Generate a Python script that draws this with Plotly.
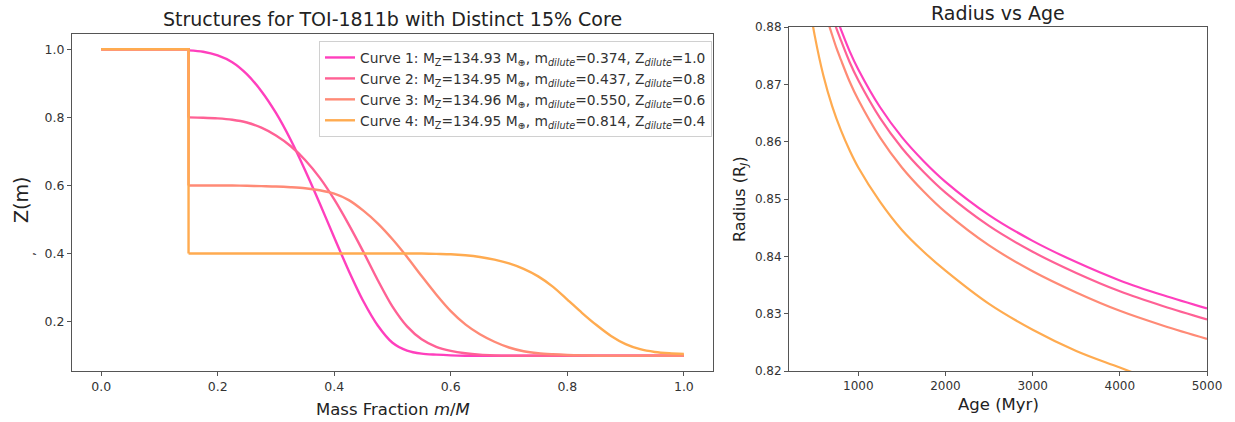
import plotly.graph_objects as go

W, H = 1235, 422

# ---------------- data: left panel (Z profile vs mass fraction) ----------------
core_mass = [0.0, 0.15]
core_z = [1.0, 1.0]

mass = [0.150, 0.175, 0.200, 0.225, 0.250, 0.275, 0.300, 0.325, 0.350, 0.375,
        0.400, 0.425, 0.450, 0.475, 0.500, 0.525, 0.550, 0.575, 0.600, 0.625,
        0.650, 0.675, 0.700, 0.725, 0.750, 0.775, 0.800, 0.825, 0.850, 0.875,
        0.900, 0.925, 0.950, 0.975, 1.000]

z_curve1 = [0.997, 0.993, 0.982, 0.962, 0.927, 0.877, 0.813, 0.735, 0.645, 0.548,
            0.447, 0.349, 0.260, 0.188, 0.138, 0.115, 0.106, 0.103, 0.101, 0.100,
            0.100, 0.100, 0.100, 0.100, 0.100, 0.100, 0.100, 0.100, 0.100, 0.100,
            0.100, 0.100, 0.100, 0.100, 0.100]
z_curve2 = [0.800, 0.799, 0.797, 0.793, 0.785, 0.770, 0.747, 0.716, 0.675, 0.623,
            0.559, 0.485, 0.405, 0.321, 0.244, 0.186, 0.148, 0.126, 0.114, 0.107,
            0.103, 0.101, 0.100, 0.100, 0.100, 0.100, 0.100, 0.100, 0.100, 0.100,
            0.100, 0.100, 0.100, 0.100, 0.100]
z_curve3 = [0.600, 0.600, 0.600, 0.600, 0.599, 0.598, 0.597, 0.595, 0.592, 0.586,
            0.576, 0.557, 0.526, 0.488, 0.442, 0.390, 0.334, 0.280, 0.231, 0.192,
            0.163, 0.141, 0.124, 0.113, 0.107, 0.104, 0.102, 0.101, 0.100, 0.100,
            0.100, 0.100, 0.100, 0.100, 0.100]
z_curve4 = [0.400, 0.400, 0.400, 0.400, 0.400, 0.400, 0.400, 0.400, 0.400, 0.400,
            0.400, 0.400, 0.400, 0.400, 0.400, 0.400, 0.400, 0.399, 0.398, 0.395,
            0.390, 0.382, 0.371, 0.355, 0.333, 0.303, 0.265, 0.226, 0.190, 0.158,
            0.134, 0.119, 0.111, 0.107, 0.105]

curve_labels = [
    "Curve 1: M<sub>Z</sub>=134.93 M<sub>⊕</sub>, m<sub><i>dilute</i></sub>=0.374, Z<sub><i>dilute</i></sub>=1.0",
    "Curve 2: M<sub>Z</sub>=134.95 M<sub>⊕</sub>, m<sub><i>dilute</i></sub>=0.437, Z<sub><i>dilute</i></sub>=0.8",
    "Curve 3: M<sub>Z</sub>=134.96 M<sub>⊕</sub>, m<sub><i>dilute</i></sub>=0.550, Z<sub><i>dilute</i></sub>=0.6",
    "Curve 4: M<sub>Z</sub>=134.95 M<sub>⊕</sub>, m<sub><i>dilute</i></sub>=0.814, Z<sub><i>dilute</i></sub>=0.4",
]

# ---------------- data: right panel (radius vs age) ----------------
age_1 = [700, 750, 800, 900, 1000, 1250, 1500, 1750, 2000, 2500, 3000, 3500, 4000, 4500, 5000]
r_1 = [0.8839, 0.8816, 0.8796, 0.8758, 0.8726, 0.8660, 0.8608, 0.8566, 0.8530, 0.8472,
       0.8427, 0.8390, 0.8358, 0.8332, 0.8309]
age_2 = [650, 700, 750, 800, 900, 1000, 1250, 1500, 1750, 2000, 2500, 3000, 3500, 4000, 4500, 5000]
r_2 = [0.8844, 0.8820, 0.8797, 0.8777, 0.8739, 0.8707, 0.8641, 0.8589, 0.8547, 0.8511,
       0.8453, 0.8408, 0.8371, 0.8339, 0.8313, 0.8290]
age_3 = [600, 650, 700, 750, 800, 900, 1000, 1250, 1500, 1750, 2000, 2500, 3000, 3500, 4000, 4500, 5000]
r_3 = [0.8836, 0.8810, 0.8786, 0.8763, 0.8743, 0.8705, 0.8673, 0.8607, 0.8555, 0.8513,
       0.8477, 0.8419, 0.8374, 0.8337, 0.8305, 0.8279, 0.8256]
age_4 = [400, 450, 500, 600, 700, 800, 900, 1000, 1250, 1500, 1750, 2000, 2500, 3000, 3500, 4000, 4500]
r_4 = [0.8890, 0.8830, 0.8785, 0.8715, 0.8662, 0.8620, 0.8585, 0.8555, 0.8495, 0.8446,
       0.8408, 0.8375, 0.8317, 0.8272, 0.8235, 0.8206, 0.8177]

colors = ["#ff3fbd", "#ff6195", "#ff8a76", "#ffab50"]
FONT = "DejaVu Sans"


def px(x):
    return x / W


def py(y):
    return 1 - y / H


fig = go.Figure()

z_list = [z_curve1, z_curve2, z_curve3, z_curve4]
age_list = [age_1, age_2, age_3, age_4]
r_list = [r_1, r_2, r_3, r_4]

for i in range(4):
    # distinct core + step down to the dilute region
    fig.add_trace(go.Scatter(
        x=core_mass + [core_mass[-1]], y=core_z + [z_list[i][0]],
        mode="lines", line=dict(color=colors[i], width=2.4),
        xaxis="x", yaxis="y", showlegend=False, hoverinfo="skip",
        legendgroup=f"c{i}"))
    # dilute envelope
    fig.add_trace(go.Scatter(
        x=mass, y=z_list[i], mode="lines",
        line=dict(color=colors[i], width=2.4, shape="spline", smoothing=0.8),
        xaxis="x", yaxis="y", name=curve_labels[i], legendgroup=f"c{i}"))

for i in range(4):
    fig.add_trace(go.Scatter(
        x=age_list[i], y=r_list[i], mode="lines",
        line=dict(color=colors[i], width=2.2, shape="spline", smoothing=1.0),
        xaxis="x2", yaxis="y2", showlegend=False))

axis_common = dict(
    showline=True, mirror=True, linecolor="#555555", linewidth=1,
    showgrid=False, zeroline=False, ticks="outside", ticklen=4,
    tickcolor="#555555", tickwidth=1, automargin=False,
)

L0, L1 = 72, 713
LT, LB = 34, 371
R0, R1 = 789, 1207
RT, RB = 27, 371

fig.update_layout(
    template="none",
    width=W, height=H,
    margin=dict(l=0, r=0, t=0, b=0, pad=0),
    paper_bgcolor="white", plot_bgcolor="white",
    font=dict(family=FONT, color="#333333"),
    xaxis=dict(domain=[px(L0), px(L1)], anchor="y", range=[-0.05, 1.05],
               tickvals=[0.0, 0.2, 0.4, 0.6, 0.8, 1.0], tickformat=".1f",
               tickfont=dict(size=12.5, family=FONT, color="#333333"), **axis_common),
    yaxis=dict(domain=[py(LB), py(LT)], anchor="x", range=[0.055, 1.045],
               tickvals=[0.2, 0.4, 0.6, 0.8, 1.0], tickformat=".1f",
               tickfont=dict(size=12.5, family=FONT, color="#333333"), **axis_common),
    xaxis2=dict(domain=[px(R0), px(R1)], anchor="y2", range=[205, 5000],
                tickvals=[1000, 2000, 3000, 4000, 5000], tickformat="d",
                tickfont=dict(size=12, family=FONT, color="#333333"), **axis_common),
    yaxis2=dict(domain=[py(RB), py(RT)], anchor="x2", range=[0.82, 0.88],
                tickvals=[0.82, 0.83, 0.84, 0.85, 0.86, 0.87, 0.88], tickformat=".2f",
                tickfont=dict(size=12, family=FONT, color="#333333"), **axis_common),
    legend=dict(
        x=px(712), xanchor="right", y=py(41), yanchor="top",
        bgcolor="rgba(255,255,255,0.9)", bordercolor="#d0d0d0", borderwidth=1,
        font=dict(size=13.8, family=FONT, color="#333333"),
        itemwidth=30, tracegroupgap=0,
    ),
    showlegend=True,
)

annotations = [
    dict(text="Structures for TOI-1811b with Distinct 15% Core", x=px((L0 + L1) / 2), y=py(19),
         font=dict(size=19, color="#222222")),
    dict(text="Radius vs Age", x=px((R0 + R1) / 2), y=py(13), font=dict(size=19, color="#222222")),
    dict(text="Mass Fraction <i>m</i>/<i>M</i>", x=px((L0 + L1) / 2), y=py(409),
         font=dict(size=16.5, color="#222222")),
    dict(text="Age (Myr)", x=px((R0 + R1) / 2), y=py(404), font=dict(size=16.5, color="#222222")),
    dict(text="Z(m)", x=px(21), y=py(200), textangle=-90, font=dict(size=19, color="#222222")),
    dict(text="Radius (R<sub><i>J</i></sub>)", x=px(741), y=py(199), textangle=-90,
         font=dict(size=16, color="#222222")),
    dict(text=",", x=px(31), y=py(254), textangle=-90, font=dict(size=12, color="#222222")),
]
for a in annotations:
    a.update(xref="paper", yref="paper", showarrow=False, xanchor="center", yanchor="middle")
    a["font"]["family"] = FONT
fig.update_layout(annotations=annotations)

fig.write_html("out.html")
